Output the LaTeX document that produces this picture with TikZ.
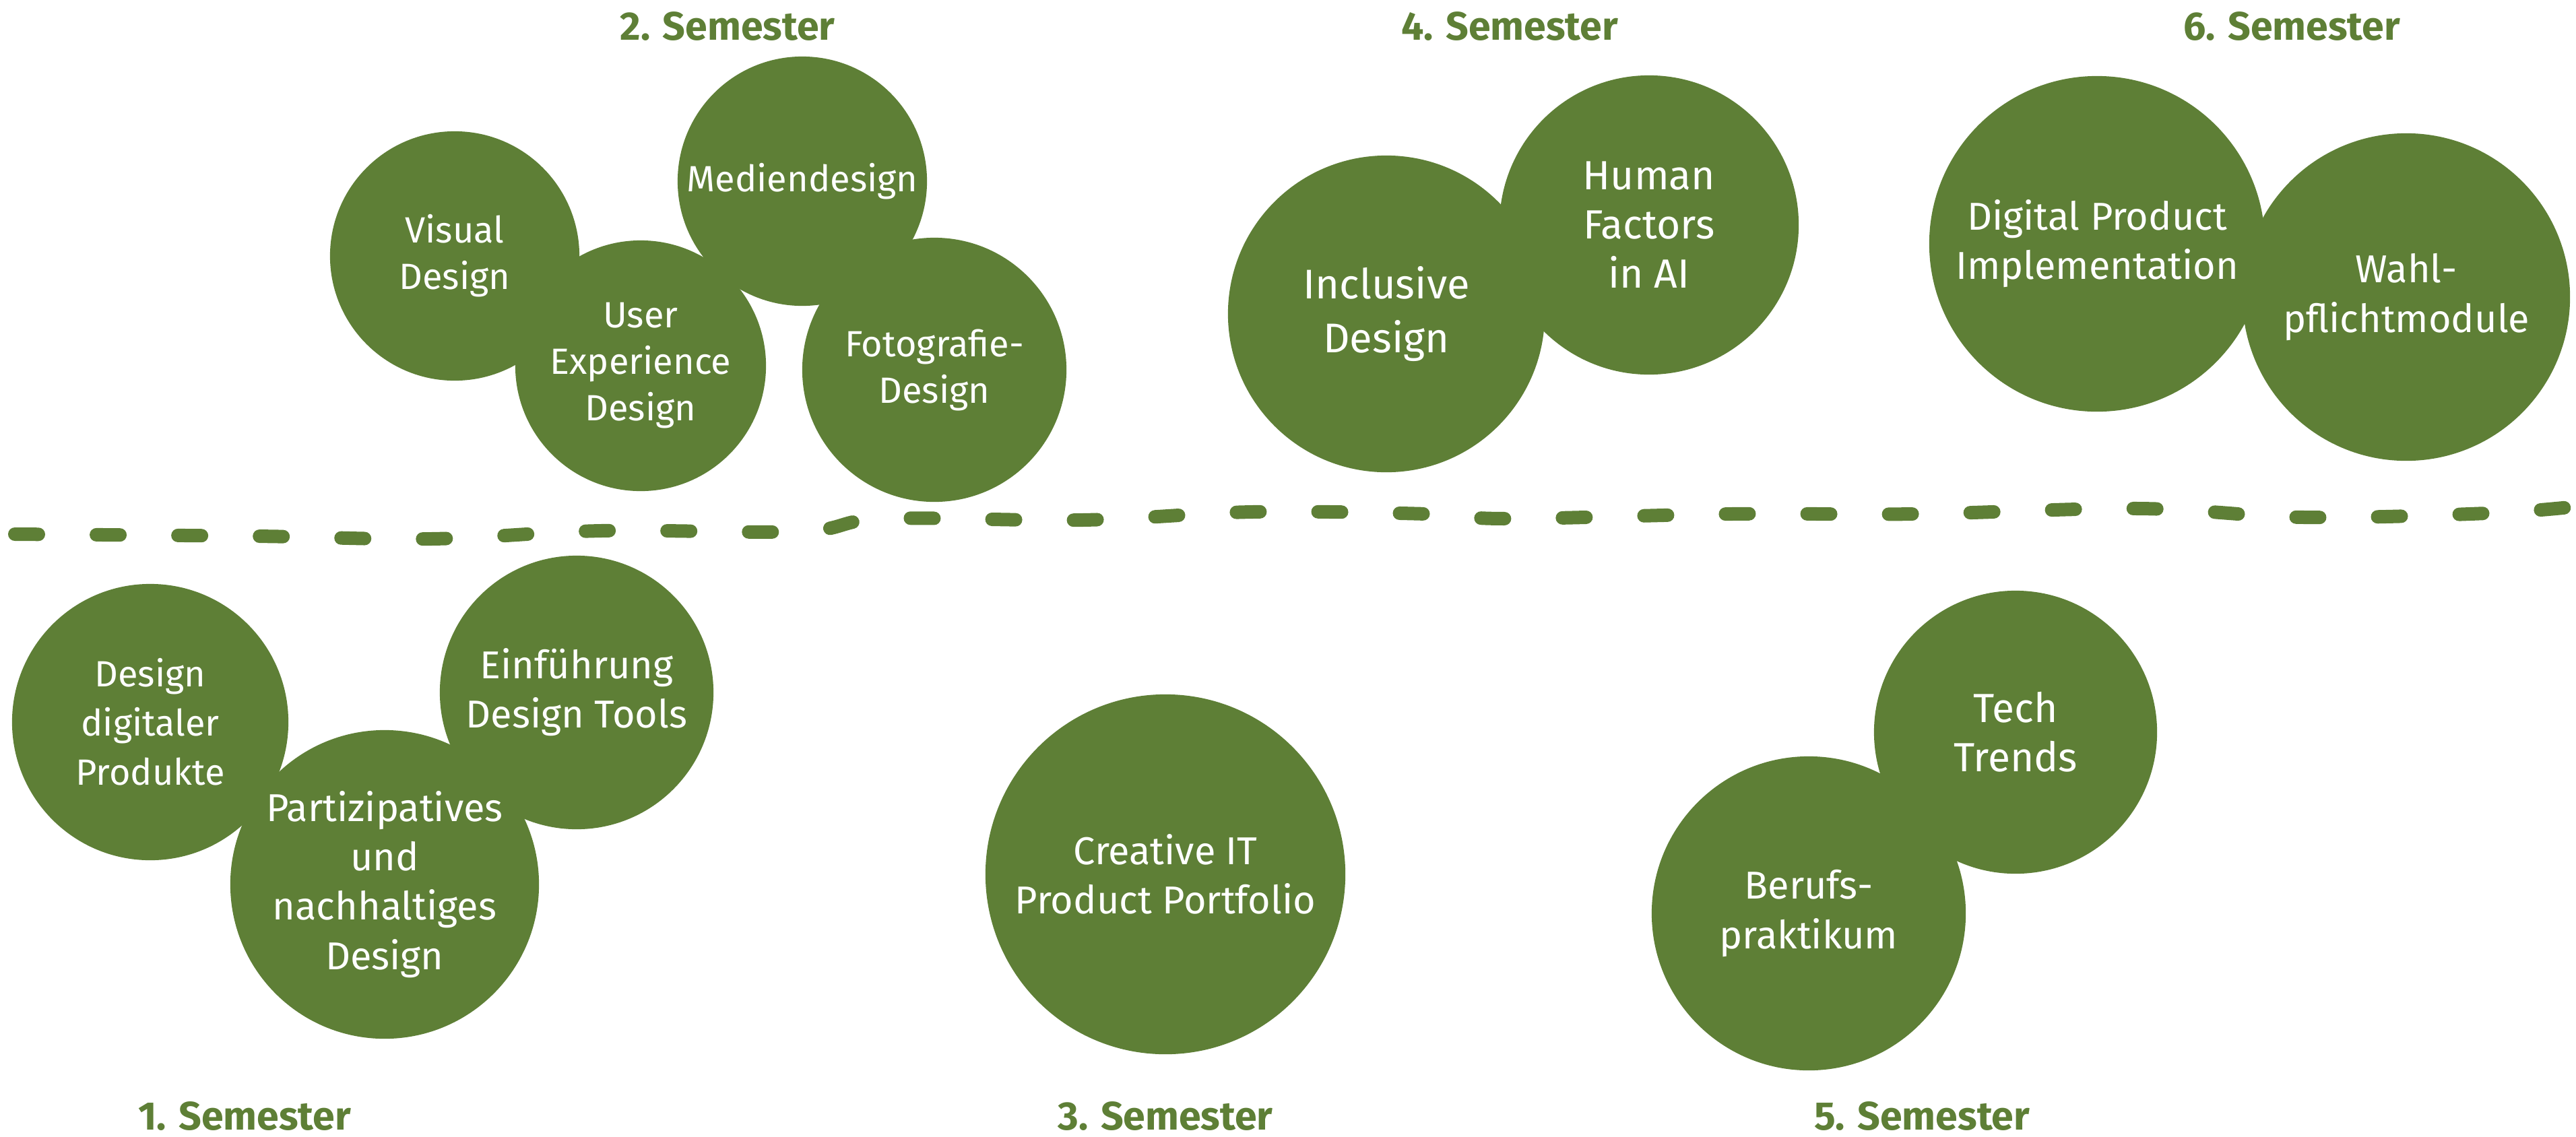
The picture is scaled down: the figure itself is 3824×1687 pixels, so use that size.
\documentclass[tikz,border=0pt]{standalone}
\usepackage{fontspec}
\setmainfont{Fira Sans}
\usetikzlibrary{positioning}
\definecolor{moos}{RGB}{94,127,54}
\tikzset{
  modul/.style={circle, fill=moos, text=white, inner sep=0pt, align=center, minimum size=#1},
  textS/.style={font=\fontsize{15.4}{19.6}\selectfont},
  textM/.style={font=\fontsize{16.4}{20.8}\selectfont},
  textL/.style={font=\fontsize{17.2}{20.8}\selectfont},
  semester/.style={text=moos, anchor=base, font=\fontsize{16.8}{20}\selectfont\bfseries},
}

\begin{document}
\begin{tikzpicture}[x=0.01cm, y=-0.01cm]
	\tikzstyle{divider}=[draw=moos, line width=0.2cm, line cap=round, dash pattern=on 0.35cm off 0.86cm]
	\useasboundingbox (0,0) rectangle (3824,1687);

	% upper row: 2., 4., 6. Semester
	\node[modul=3.70cm, textS] (visual) at (675,380) {Visual\\Design};
	\node[modul=3.72cm, textS] (ux) at (951,543) {User\\Experience\\Design};
	\node[modul=3.70cm, textS] (medien) at (1191,269) {Mediendesign};
	\node[modul=3.92cm, textS] (foto) at (1387,549) {Fotografie-\\Design};

	\node[modul=4.70cm, font=\fontsize{17.5}{22.8}\selectfont] (inclusive) at (2058,466) {Inclusive\\Design};
	\node[modul=4.44cm, textL] (human) at (2448,334) {Human\\Factors\\in AI};

	\node[modul=4.98cm, textM] (digital) at (3113,362) {Digital Product\\Implementation};
	\node[modul=4.86cm, textM] (wahl) at (3572,441) {Wahl-\\pflichtmodule};

	\node[semester] (sem2) at (1080,59) {2. Semester};
	\node[semester] (sem4) at (2241,59) {4. Semester};
	\node[semester] (sem6) at (3402,59) {6. Semester};

	% lower row: 1., 3., 5. Semester
	\node[modul=4.10cm, textS, font=\fontsize{15.4}{20.8}\selectfont] (digitaler) at (223,1072) {Design\\digitaler\\Produkte};
	\node[modul=4.06cm, textM] (tools) at (856,1028) {Einführung\\Design Tools};
	\node[modul=4.58cm, textM] (partizip) at (571,1313) {Partizipatives\\und\\nachhaltiges\\Design};

	\node[modul=5.34cm, textM] (portfolio) at (1730,1298) {Creative IT\\Product Portfolio};

	\node[modul=4.20cm, textL] (trends) at (2992,1087) {Tech\\Trends};
	\node[modul=4.66cm, textM] (praktikum) at (2685,1356) {Berufs-\\praktikum};

	\node[semester] (sem1) at (363,1677) {1. Semester};
	\node[semester] (sem3) at (1730,1677) {3. Semester};
	\node[semester] (sem5) at (2853,1677) {5. Semester};

	% dividing line
	\path[divider] plot[smooth, tension=0.6] coordinates {
		(22,793) (380,796) (640,800) (892,788) (1189,789) (1311,770) (1607,772)
		(1859,760) (2119,763) (2239,770) (2570,763) (2845,763) (3174,755)
		(3421,768) (3692,762) (3824,752)};
\end{tikzpicture}
\end{document}
